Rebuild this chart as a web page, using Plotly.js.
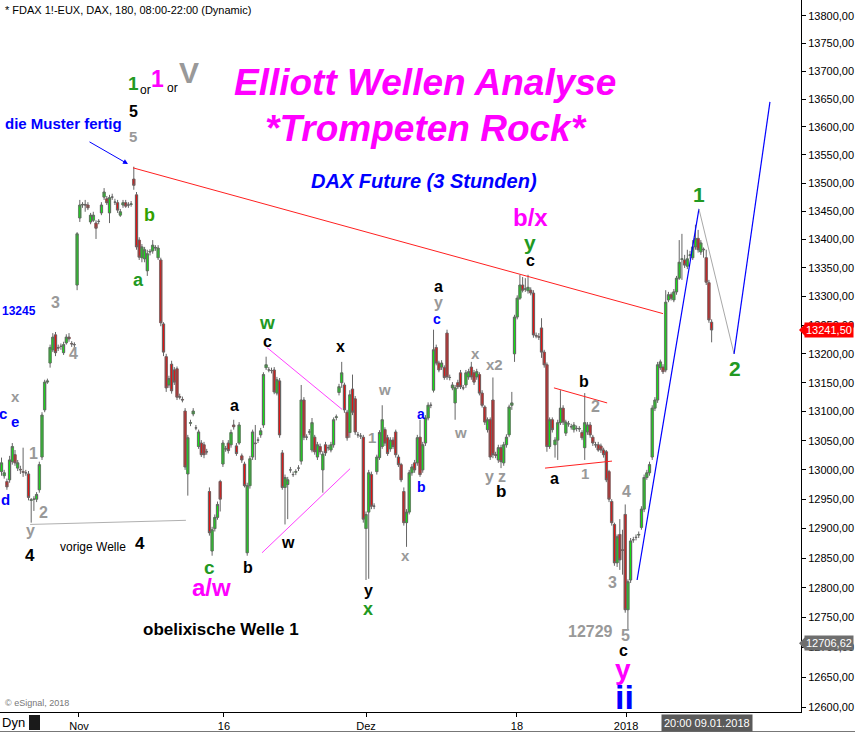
<!DOCTYPE html>
<html><head><meta charset="utf-8">
<script src="https://cdn.plot.ly/plotly-3.0.1.min.js"></script>
<style>html,body{margin:0;padding:0;background:#fff;}#chart{width:855px;height:733px;}</style>
</head><body><div id="chart"></div>
<script>
// ---- candle data (3h bars, index = bar number) ----
const opens = [
12997,12990,12980,12983,13014,13026,13003,13001,12997,12995,
12993,12948,12950,12950,12966,13022,13103,13151,13184,13207,
13233,13211,13213,13202,13219,13229,13218,13216,13320,13438,
13461,13462,13461,13431,13434,13429,13432,13447,13475,13472,
13447,13475,13466,13465,13443,13461,13465,13461,13462,13507,
13479,13399,13368,13366,13345,13378,13380,13385,13368,13364,
13252,13195,13146,13182,13172,13174,13126,13121,13101,12993,
13080,13096,13072,13040,13046,13043,13031,12963,12862,12900,
12919,12980,13010,13036,13046,13043,13077,13041,13046,13024,
13010,12859,12973,13022,13046,13051,13060,13077,13176,13172,
13171,13172,13132,13153,13029,12970,12975,13000,12992,12996,
13003,13015,13120,13056,13065,13034,13056,13022,13040,13000,
13043,13038,13034,13043,13090,13133,13150,13146,13099,13064,
13139,13122,13060,13058,13056,12900,12928,12992,12938,12997,
13021,13040,13069,13055,13036,13051,13065,13022,13009,12963,
12910,12928,12995,13012,13012,13056,13000,13046,13089,13111,
13137,13211,13184,13177,13176,13236,13159,13141,13115,13150,
13167,13141,13146,13160,13177,13167,13160,13164,13132,13108,
13069,13086,13120,13026,13017,13038,13012,13043,13060,13111,
13200,13264,13297,13320,13313,13310,13311,13306,13232,13230,
13245,13203,13181,13040,13086,13043,13051,13081,13106,13063,
13079,13074,13069,13071,13070,13064,13038,13065,13077,13056,
13043,13043,13041,13034,13031,12997,12946,12907,12842,12890,
12864,12924,12763,12813,12881,12885,12889,12902,12933,12987,
12995,13022,13106,13120,13176,13177,13172,13294,13303,13294,
13308,13332,13365,13364,13353,13372,13368,13387,13402,13378,
13383,13368,13324,13255];
const highs = [
13021,13000,12985,13024,13046,13034,13017,13007,13038,13000,
12998,12952,12955,12962,13014,13099,13155,13157,13216,13236,
13238,13216,13218,13221,13234,13236,13222,13220,13413,13470,
13466,13470,13466,13447,13449,13434,13436,13466,13491,13477,
13479,13481,13472,13470,13454,13470,13470,13466,13468,13529,
13484,13404,13392,13387,13382,13383,13399,13390,13390,13368,
13255,13200,13162,13188,13177,13178,13131,13126,13106,13060,
13086,13106,13077,13069,13051,13048,13036,12970,12903,12924,
12946,12983,13051,13041,13051,13069,13086,13046,13082,13028,
13014,12978,13024,13069,13077,13056,13072,13168,13195,13177,
13176,13177,13160,13158,13034,12992,12988,13005,12997,13001,
13008,13146,13125,13061,13070,13089,13060,13048,13045,13032,
13048,13043,13048,13090,13095,13148,13186,13150,13103,13137,
13164,13127,13065,13063,13060,12929,13000,12997,12943,13026,
13068,13111,13073,13060,13056,13056,13069,13026,13012,12970,
12933,13000,13010,13017,13060,13086,13048,13094,13116,13116,
13242,13216,13188,13189,13180,13242,13164,13151,13146,13155,
13172,13146,13172,13174,13186,13172,13174,13168,13137,13111,
13090,13090,13159,13031,13043,13043,13048,13061,13112,13134,
13268,13302,13338,13334,13332,13338,13316,13311,13237,13236,
13262,13207,13185,13090,13090,13056,13086,13137,13111,13086,
13084,13079,13082,13076,13075,13068,13132,13082,13082,13060,
13048,13048,13045,13038,13034,13000,12950,12910,12890,12916,
12898,12941,12814,12884,12886,12890,12895,12938,12992,13000,
13014,13111,13125,13186,13190,13182,13311,13308,13307,13313,
13336,13399,13410,13373,13382,13380,13399,13426,13417,13399,
13386,13382,13329,13260];
const lows = [
12990,12985,12966,12978,13009,13007,12998,12993,12988,12990,
12948,12910,12930,12945,12961,13017,13099,13148,13176,13203,
13196,13205,13207,13198,13216,13221,13212,13210,13311,13431,
13456,13449,13452,13427,13431,13401,13427,13443,13470,13461,
13429,13470,13461,13447,13440,13456,13456,13456,13458,13488,
13382,13364,13360,13360,13336,13372,13375,13380,13364,13248,
13196,13134,13141,13131,13146,13120,13121,13116,13000,12956,
13075,13092,13068,13036,13022,13020,13026,12888,12854,12895,
12915,12929,13005,13031,13028,13038,13069,13024,13043,13012,
12970,12854,12968,13017,13017,13046,13055,13072,13172,13168,
13166,13130,13128,13055,12966,12907,12916,12995,12988,12991,
12998,13009,13051,13051,13060,13030,13026,13017,13026,12961,
13024,13033,13030,13038,13085,13128,13141,13098,13050,13055,
13094,13060,13055,13053,12910,12813,12815,12933,12933,12992,
13017,13036,13041,13024,13031,13036,13021,13005,12979,12905,
12869,12924,12990,12995,13007,12988,12995,13041,13085,13106,
13133,13180,13168,13172,13155,13155,13154,13137,13086,13139,
13139,13137,13141,13155,13155,13146,13155,13128,13107,13077,
13064,13017,13020,13020,13012,13003,13007,13038,13056,13103,
13186,13260,13294,13307,13308,13305,13302,13228,13227,13224,
13193,13176,13031,13036,13064,13021,13017,13077,13077,13058,
13074,13069,13064,13066,13065,13051,13017,13060,13055,13041,
13038,13031,13029,13021,12979,12945,12905,12837,12835,12830,
12822,12758,12729,12808,12876,12880,12884,12898,12928,12983,
12990,13017,13101,13115,13172,13165,13168,13290,13293,13290,
13303,13329,13329,13350,13348,13366,13364,13382,13377,13373,
13368,13320,13254,13220];
const closes = [
13012,12995,12971,13017,13040,13012,13012,13000,12996,12995,
12953,12949,12950,12958,13009,13094,13151,13153,13211,13229,
13202,13210,13213,13216,13229,13226,13217,13216,13410,13461,
13462,13461,13456,13443,13443,13420,13432,13461,13484,13465,
13474,13475,13466,13452,13449,13465,13459,13461,13463,13496,
13387,13369,13387,13382,13375,13379,13390,13386,13385,13254,
13203,13141,13157,13136,13151,13125,13125,13120,13005,13055,
13081,13101,13072,13065,13026,13026,13031,12893,12898,12919,
12941,12950,13046,13036,13033,13064,13074,13028,13077,13017,
12973,12973,13019,13065,13045,13051,13067,13164,13181,13172,
13171,13134,13155,13060,12970,12987,12983,13000,12992,12997,
13003,13120,13056,13056,13065,13081,13031,13043,13031,13027,
13029,13038,13043,13086,13091,13143,13167,13103,13055,13129,
13099,13065,13060,13058,12916,12924,12995,12938,12938,13022,
13064,13086,13046,13028,13051,13040,13026,13009,12983,12910,
12928,12995,13005,13000,13055,12992,13043,13089,13111,13111,
13207,13184,13172,13184,13159,13160,13159,13146,13141,13143,
13143,13141,13167,13169,13160,13151,13169,13132,13111,13082,
13086,13022,13026,13025,13038,13014,13043,13056,13108,13115,
13264,13297,13320,13311,13313,13316,13306,13233,13231,13229,
13203,13181,13040,13086,13069,13051,13081,13106,13082,13082,
13079,13074,13077,13071,13071,13055,13081,13077,13060,13046,
13043,13034,13034,13026,12983,12950,12910,12842,12886,12847,
12863,12763,12810,12879,12881,12885,12890,12933,12987,12995,
13009,13106,13120,13181,13186,13169,13290,13303,13297,13308,
13332,13360,13366,13355,13366,13373,13387,13402,13382,13394,
13382,13325,13259,13241.5];

// ---- axis ticks ----
const xTickPos = [28.7, 82.4, 135, 190.9, 231.3];
const xTickText = ['Nov', '16', 'Dez', '18', '2018'];
const yTicks = [12600,12650,12700,12750,12800,12850,12900,12950,13000,13050,13100,13150,13200,13250,13300,13350,13400,13450,13500,13550,13600,13650,13700,13750,13800];
const lastPrice = 13241.5;
const refPrice = 12706.62;
const yRangePrice = [12592.4, 13829];
const xRange = [-0.556, 296.1];

// ---- drawn lines (bar index, price) ----
const redTrendX = [48.7, 245], redTrendY = [13527, 13270];
const pink1X = [98.3, 126.1], pink1Y = [13211, 13104];
const pink2X = [96.5, 129.1], pink2Y = [12859, 13002];
const greyBaseX = [10.6, 68.3], greyBaseY = [12907, 12914];
const redUpX = [204.6, 224.3], redUpY = [13141, 13115];
const redLowX = [201.3, 226.1], redLowY = [13003, 13015];
const blue1X = [235.4, 258.3], blue1Y = [12813, 13454];
const greyProjX = [258.3, 271.3], greyProjY = [13454, 13200];
const blue2X = [271.3, 284.6], blue2Y = [13200, 13645];

const idx = opens.map((_, i) => i);
const FONT = 'Liberation Sans, Arial, sans-serif';
const UP = '#00ff00', DOWN = '#ff0000', EDGE = '#666666';

// candle bodies drawn as bars from min(open,close) to max(open,close)
const bodyBase = opens.map((o, i) => Math.min(o, closes[i]));
const bodyLen = opens.map((o, i) => Math.abs(closes[i] - o));
const bodyCol = opens.map((o, i) => closes[i] >= o ? UP : DOWN);

function line(x, y, color, w) {
  return {type:'scatter', mode:'lines', x:x, y:y, line:{color:color, width:w||1}, hoverinfo:'skip', showlegend:false};
}
const traces = [
  line(greyBaseX, greyBaseY, '#b0b0b0', 1),
  line(redTrendX, redTrendY, '#ff2020', 1),
  line(pink1X, pink1Y, '#ff40ff', 1),
  line(pink2X, pink2Y, '#ff40ff', 1),
  line(redUpX, redUpY, '#ff2020', 1),
  line(redLowX, redLowY, '#ff2020', 1),
  {type:'candlestick', x:idx, open:opens, high:highs, low:lows, close:closes,
   increasing:{line:{color:EDGE, width:1}, fillcolor:UP},
   decreasing:{line:{color:EDGE, width:1}, fillcolor:DOWN},
   whiskerwidth:0, hoverinfo:'skip', showlegend:false},
  {type:'bar', x:idx, y:bodyLen, base:bodyBase, width:1.0,
   marker:{color:bodyCol, line:{color:EDGE, width:0.4}}, hoverinfo:'skip', showlegend:false},
  line(blue1X, blue1Y, '#0000ff', 1.2),
  line(greyProjX, greyProjY, '#a8a8a8', 1),
  line(blue2X, blue2Y, '#0000ff', 1.2)
];

// ---- text labels: text, px, py, size, color, style(b/i/bi/n), anchor ----
const labels = [
 ['* FDAX 1!-EUX, DAX, 180, 08:00-22:00 (Dynamic)', 3, 10, 11, '#000', 'n', 'left'],
 ['Elliott Wellen Analyse', 425, 82, 37, '#ff00ff', 'bi'],
 ['*Trompeten Rock*', 426, 128, 37, '#ff00ff', 'bi'],
 ['DAX Future (3 Stunden)', 424, 181, 20, '#0000ff', 'bi'],
 ['die Muster fertig', 3, 124, 15, '#0000ff', 'b', 'left'],
 ['1', 133, 83, 19, '#229922', 'b'],
 ['or', 145, 90, 12, '#000', 'n'],
 ['1', 157, 79, 23, '#ff00ff', 'b'],
 ['or', 172, 88, 12, '#000', 'n'],
 ['V', 189, 73, 30, '#999999', 'b'],
 ['5', 133, 112, 16, '#000', 'b'],
 ['5', 133, 136, 15, '#999999', 'b'],
 ['b', 149, 215, 18, '#33a000', 'b'],
 ['a', 138, 280, 18, '#229922', 'b'],
 ['3', 55, 302, 16, '#999999', 'b'],
 ['13245', 19, 311, 12, '#0000ff', 'b'],
 ['4', 73, 353, 16, '#999999', 'b'],
 ['x', 15, 397, 15, '#999999', 'b'],
 ['c', 3, 413, 15, '#0000ff', 'b'],
 ['e', 15, 421, 15, '#0000ff', 'b'],
 ['1', 33, 453, 16, '#999999', 'b'],
 ['d', 5, 499, 15, '#0000ff', 'b'],
 ['2', 43, 512, 16, '#999999', 'b'],
 ['y', 30, 530, 16, '#999999', 'b'],
 ['4', 30, 555, 17, '#000', 'b'],
 ['vorige Welle', 93, 547, 12, '#000', 'n'],
 ['4', 140, 543, 17, '#000', 'b'],
 ['w', 267, 322, 19, '#229922', 'b'],
 ['c', 267, 341, 16, '#000', 'b'],
 ['a', 234, 405, 16, '#000', 'b'],
 ['x', 340, 346, 16, '#000', 'b'],
 ['w', 384, 389, 15, '#999999', 'b'],
 ['1', 372, 437, 15, '#999999', 'b'],
 ['c', 210, 567, 19, '#229922', 'b'],
 ['a/w', 212, 587, 24, '#ff00ff', 'b'],
 ['b', 248, 567, 16, '#000', 'b'],
 ['w', 288, 542, 16, '#000', 'b'],
 ['y', 368, 590, 16, '#000', 'b'],
 ['x', 368, 609, 18, '#229922', 'b'],
 ['obelixische Welle 1', 221, 629, 17, '#000', 'b'],
 ['a', 438, 286, 16, '#000', 'b'],
 ['y', 438, 302, 16, '#999999', 'b'],
 ['c', 437, 319, 14, '#0000ff', 'b'],
 ['x', 475, 353, 15, '#999999', 'b'],
 ['x2', 495, 365, 15, '#999999', 'b'],
 ['w', 461, 432, 15, '#999999', 'b'],
 ['a', 421, 414, 14, '#0000ff', 'b'],
 ['b', 422, 487, 14, '#0000ff', 'b'],
 ['y', 489, 476, 16, '#999999', 'b'],
 ['z', 502, 476, 16, '#999999', 'b'],
 ['b', 501, 491, 17, '#000', 'b'],
 ['x', 405, 555, 15, '#999999', 'b'],
 ['b/x', 530, 217, 24, '#ff00ff', 'b'],
 ['y', 530, 242, 21, '#229922', 'b'],
 ['c', 530, 260, 16, '#000', 'b'],
 ['b', 584, 381, 16, '#000', 'b'],
 ['2', 595, 406, 16, '#999999', 'b'],
 ['a', 554, 478, 16, '#000', 'b'],
 ['1', 585, 473, 15, '#999999', 'b'],
 ['4', 626, 491, 16, '#999999', 'b'],
 ['3', 612, 582, 16, '#999999', 'b'],
 ['12729', 590, 631, 16, '#999999', 'b'],
 ['5', 625, 635, 16, '#999999', 'b'],
 ['c', 623, 650, 16, '#000', 'b'],
 ['y', 623, 669, 28, '#ff00ff', 'b'],
 ['ii', 624, 697, 34, '#0000ff', 'b'],
 ['1', 699, 194, 21, '#229922', 'b'],
 ['2', 735, 368, 21, '#229922', 'b'],
 ['\u00a9 eSignal, 2018', 3, 703, 9, '#777777', 'n', 'left'],
 ['Dyn', 0, 722, 13, '#000', 'n', 'left']
];

const PW = 801, PH = 712;
const lo = Math.log10(yRangePrice[0]), hi = Math.log10(yRangePrice[1]);
function py2paper(py){ return 1 - py/PH; }
function price2paper(p){ return (Math.log10(p) - lo)/(hi - lo); }

const annotations = labels.map(l => {
  let t = l[0];
  if (l[5] === 'b') t = '<b>' + t + '</b>';
  if (l[5] === 'bi') t = '<b><i>' + t + '</i></b>';
  return {text:t, xref:'paper', yref:'paper', x:l[1]/PW, y:py2paper(l[2]),
    xanchor:l[6]||'center', yanchor:'middle', showarrow:false,
    font:{family:FONT, size:l[3], color:l[4]}};
});
// blue arrow
annotations.push({text:'', xref:'paper', yref:'paper', x:128/PW, y:py2paper(164),
  showarrow:true, ax:-40, ay:-23, arrowhead:2, arrowsize:1, arrowwidth:1, arrowcolor:'#0000ff'});
// price labels
annotations.push({text:lastPrice.toFixed(2).replace('.', ','), xref:'paper', yref:'paper',
  x:804/PW, y:price2paper(lastPrice), xanchor:'left', yanchor:'middle', showarrow:false,
  bgcolor:'#ff0000', borderpad:1, font:{family:FONT, size:11, color:'#fff'}});
annotations.push({text:refPrice.toFixed(2).replace('.', ','), xref:'paper', yref:'paper',
  x:804/PW, y:price2paper(refPrice), xanchor:'left', yanchor:'middle', showarrow:false,
  bgcolor:'#6e6e6e', borderpad:1, font:{family:FONT, size:11, color:'#fff'}});
// crosshair date box
annotations.push({text:'20:00 09.01.2018', xref:'paper', yref:'paper', x:661/PW, y:py2paper(723),
  xanchor:'left', yanchor:'middle', showarrow:false, bgcolor:'#5a5a5a', borderpad:2,
  font:{family:FONT, size:11, color:'#fff'}});

function tri(p, color){
  const yc = price2paper(p), d = 6/PH;
  return {type:'path', xref:'paper', yref:'paper', fillcolor:color, line:{width:0},
    path:'M ' + (799/PW) + ' ' + yc + ' L ' + (805/PW) + ' ' + (yc + d) + ' L ' + (805/PW) + ' ' + (yc - d) + ' Z'};
}
const shapes = [
  tri(lastPrice, '#ff0000'),
  tri(refPrice, '#6e6e6e'),
  {type:'rect', xref:'paper', yref:'paper', x0:29/PW, x1:40/PW, y0:py2paper(730), y1:py2paper(715),
   fillcolor:'#1a1a1a', line:{width:0}},
  {type:'line', xref:'paper', yref:'paper', x0:0, x1:855/PW, y0:py2paper(731.5), y1:py2paper(731.5),
   line:{color:'#777', width:1}}
];

const layout = {
  width:855, height:733,
  margin:{l:0, r:54, t:0, b:21, pad:0},
  paper_bgcolor:'#ffffff', plot_bgcolor:'#ffffff',
  showlegend:false, hovermode:false, boxgap:0.05, barmode:'overlay', bargap:0,
  font:{family:FONT, size:11, color:'#000'},
  xaxis:{range:xRange, showgrid:false, zeroline:false, showline:true, linecolor:'#000', linewidth:1,
    ticks:'outside', ticklen:4, tickcolor:'#000', tickvals:xTickPos, ticktext:xTickText,
    tickfont:{family:FONT, size:11, color:'#000'}, rangeslider:{visible:false}, fixedrange:true},
  yaxis:{type:'log', side:'right', range:[lo, hi], showgrid:false, zeroline:false, showline:true,
    linecolor:'#000', linewidth:1, ticks:'outside', ticklen:4, tickcolor:'#000',
    tickvals:yTicks, ticktext:yTicks.map(v => v.toFixed(2).replace('.', ',')),
    tickfont:{family:FONT, size:11, color:'#000'}, fixedrange:true},
  annotations:annotations, shapes:shapes
};

Plotly.newPlot('chart', traces, layout, {displayModeBar:false, staticPlot:true});
</script>
</body></html>
